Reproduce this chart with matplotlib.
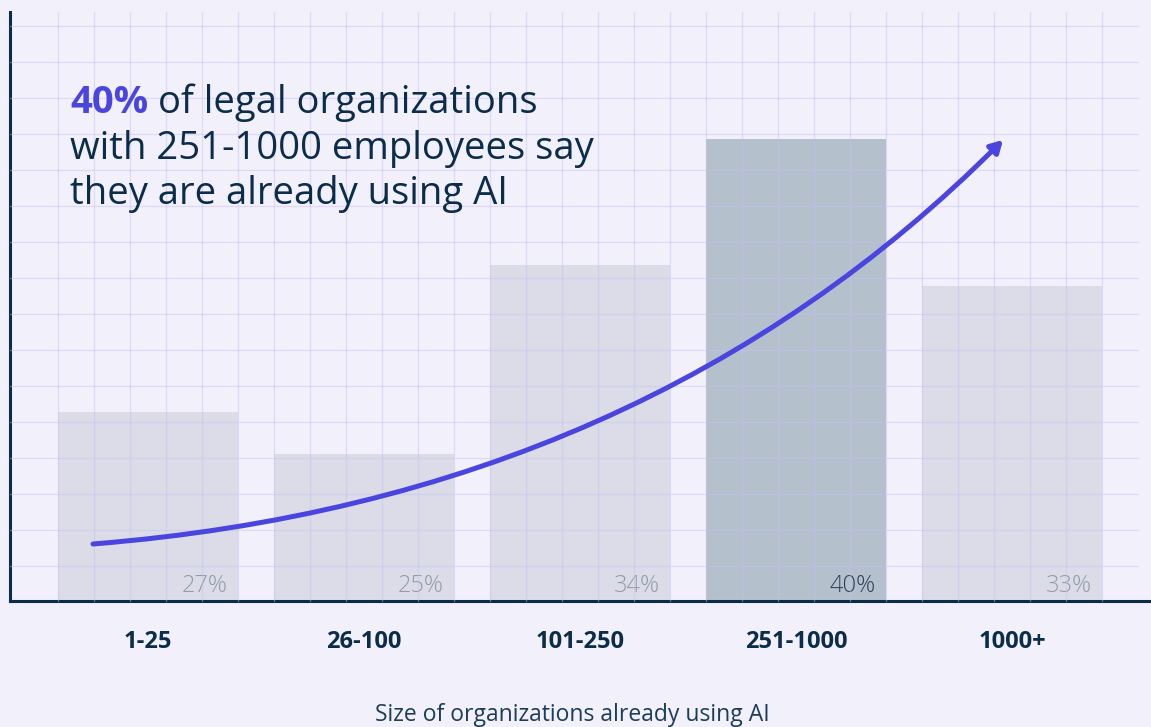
import matplotlib.pyplot as plt
import numpy as np
from matplotlib.patches import FancyArrowPatch
from matplotlib.path import Path

# Share of legal organizations already using AI, by company size
sizes = ['1-25', '26-100', '101-250', '251-1000', '1000+']
using_ai = [27, 25, 34, 40, 33]
highlight = '251-1000'

bg = '#f2f0fb'
navy = '#0b2d4a'
purple = '#4b45e0'
bar_light = '#dbdce8'
bar_dark = '#b5c0cd'

plt.rcParams['font.family'] = ['Open Sans', 'DejaVu Sans']

W, H = 1151, 727
fig = plt.figure(figsize=(W / 100, H / 100), dpi=100, facecolor=bg)

# main bar axes (pixel box: x 10..1151, y 12..601)
ax = fig.add_axes([10 / W, (H - 601) / H, (W - 10) / W, (601 - 12) / H])
ax.set_facecolor(bg)
x = np.arange(len(sizes))
ymin = 18
px_per_pct = 21.0
ax.set_ylim(ymin, ymin + (601 - 12) / px_per_pct)
ax.set_xlim((10 - 148) / 216, (W - 148) / 216)

colors = [bar_dark if s == highlight else bar_light for s in sizes]
ax.bar(x, using_ai, width=180 / 216, color=colors, zorder=1)

for xi, v, s in zip(x, using_ai, sizes):
    ax.text(xi + 0.5 * 180 / 216 - 10 / 216, ymin + 9 / px_per_pct, f'{v}%',
            ha='right', va='baseline', fontsize=17, fontweight='light',
            color='#2f4159' if s == highlight else '#939cab', zorder=4)

ax.set_xticks(x)
ax.set_xticklabels(sizes, fontsize=17, fontweight='bold', color=navy)
ax.tick_params(axis='x', length=0, pad=21)
ax.set_yticks([])
for side in ['top', 'right']:
    ax.spines[side].set_visible(False)
for side in ['left', 'bottom']:
    ax.spines[side].set_color(navy)
    ax.spines[side].set_linewidth(2.2)

# overlay in pixel units for the grid, arrow and headline
ov = fig.add_axes([0, 0, 1, 1], facecolor='none')
ov.set_xlim(0, W)
ov.set_ylim(H, 0)
ov.axis('off')

grid_c = '#c6bff6'
for gx in np.arange(58, 1103, 36):
    ov.plot([gx, gx], [12, 601], color=grid_c, lw=0.9, alpha=0.45, zorder=2)
for gy in np.arange(26, 567, 36):
    ov.plot([10, 1138], [gy, gy], color=grid_c, lw=0.9, alpha=0.45, zorder=2)

# rising curve with arrowhead
verts = [(93, 544), (645, 500), (1003, 140)]
curve = Path(verts, [Path.MOVETO, Path.CURVE3, Path.CURVE3])
arrow = FancyArrowPatch(path=curve, arrowstyle='-|>,head_length=7,head_width=4',
                        color=purple, lw=3.6, shrinkA=0, shrinkB=0, zorder=5,
                        capstyle='round')
ov.add_patch(arrow)

# headline
fs = 27.5
t1 = ov.text(70, 113, '40%', fontsize=fs, fontweight='bold', color=purple,
             va='baseline', ha='left')
fig.canvas.draw()
bb = t1.get_window_extent()
x_after = bb.x1 + 10
ov.text(x_after, 113, 'of legal organizations', fontsize=fs, color=navy,
        va='baseline', ha='left')
ov.text(70, 159, 'with 251-1000 employees say', fontsize=fs, color=navy,
        va='baseline', ha='left')
ov.text(70, 204, 'they are already using AI', fontsize=fs, color=navy,
        va='baseline', ha='left')

# axis title along the bottom edge
ov.text(572, 721, 'Size of organizations already using AI', fontsize=16.5,
        color='#1d3c58', ha='center', va='baseline')

fig.savefig('out.png', dpi=100, facecolor=bg)
